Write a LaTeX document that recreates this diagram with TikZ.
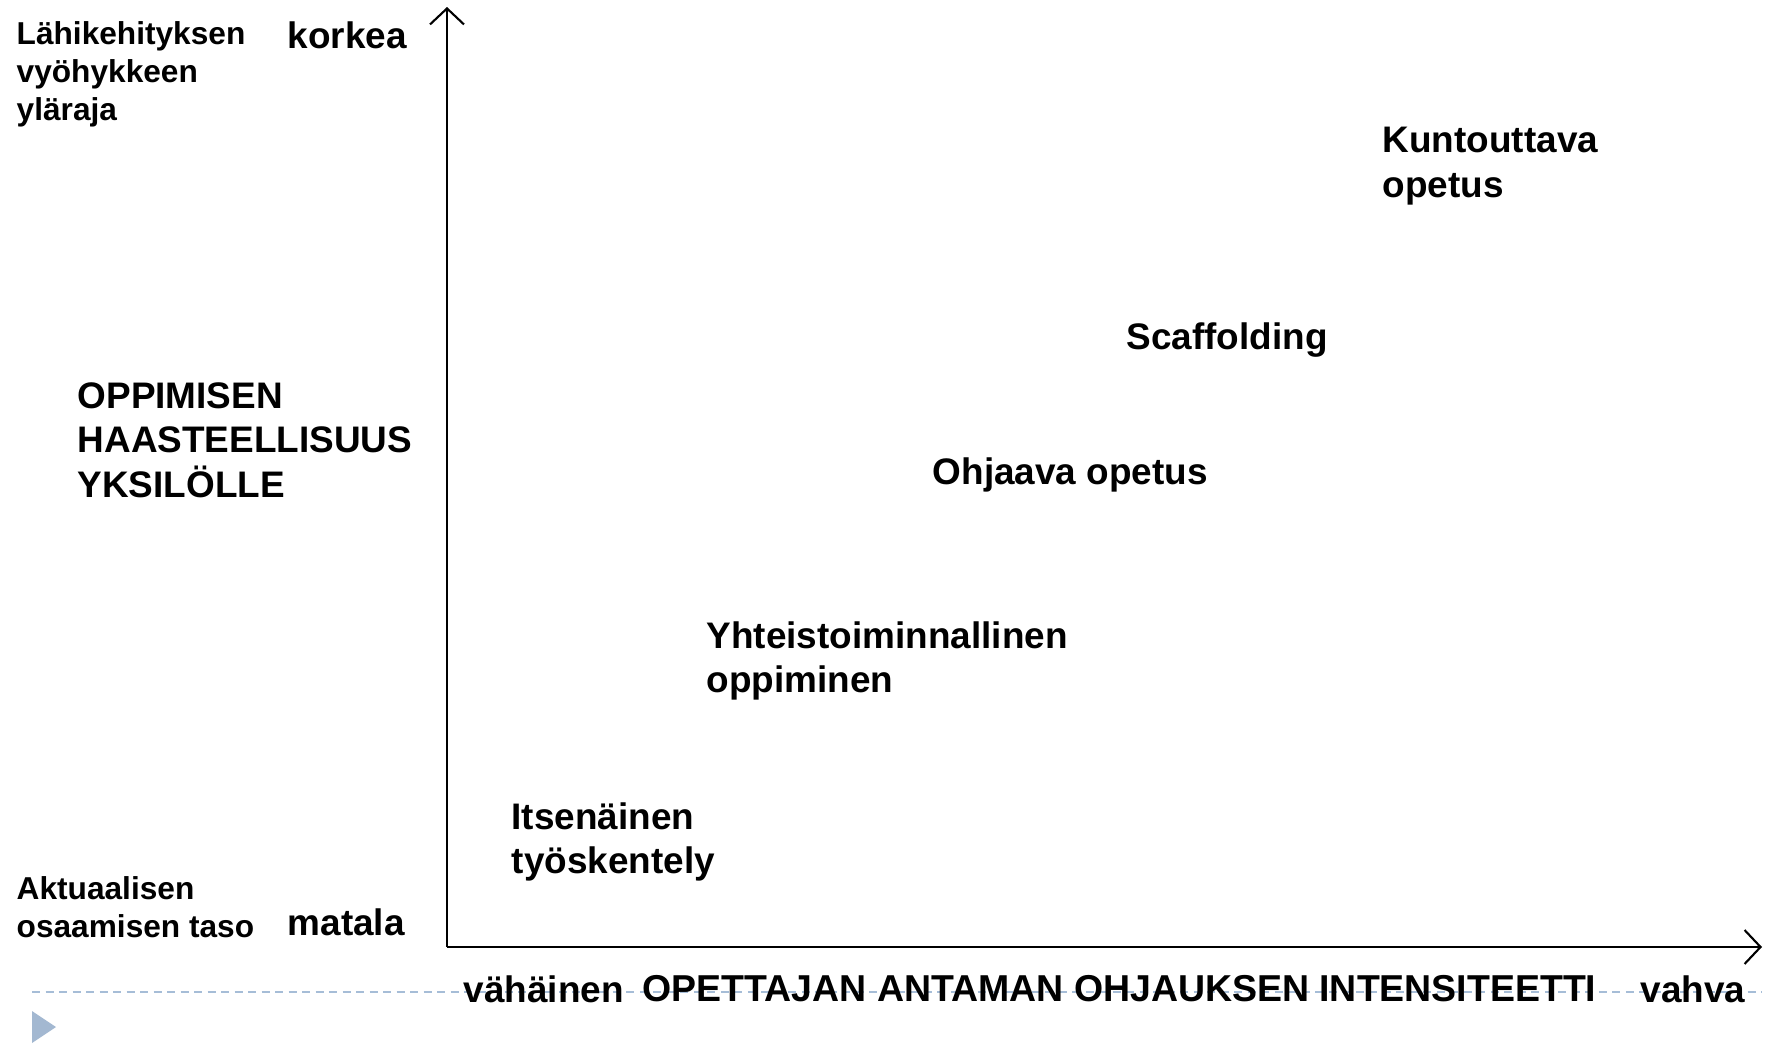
\documentclass[tikz,border=0pt]{standalone}
\usepackage{fontspec}
\setmainfont{Liberation Sans}
\usepackage{tikz}
\usetikzlibrary{arrows.meta}

\definecolor{dashblue}{RGB}{166,189,215}
\definecolor{triblue}{RGB}{163,184,209}

\tikzset{
  smalltxt/.style={anchor=west,inner sep=0pt,align=left,font=\fontsize{9}{10.8}\selectfont\bfseries},
  bigtxt/.style={anchor=west,inner sep=0pt,align=left,font=\fontsize{10.5}{12.7}\selectfont\bfseries},
  axistxt/.style={bigtxt},
  axis/.style={line width=0.6pt,-{Straight Barb[length=1.6mm,width=3.4mm,line width=0.6pt]}}
}

\begin{document}
\begin{tikzpicture}[x=0.01cm,y=-0.01cm]
\useasboundingbox (0,0) rectangle (1769,1045);

\coordinate (O) at (447,947);
\coordinate (Y) at (447,7);
\coordinate (X) at (1762,947);
\coordinate (DL) at (32,992);
\coordinate (DR) at (1762,992);

% slide decoration
\draw[dashblue,line width=0.45pt,dash pattern=on 0.8mm off 0.55mm] (DL) -- (DR);
\fill[triblue] (32,1011) -- (56,1027) -- (32,1043) -- cycle;

% axes
\draw[axis] (O) -- (Y);
\draw[axis] (O) -- (X);

% vertical axis labels
\node[smalltxt] (zpd) at (16,74) {Lähikehityksen\\vyöhykkeen\\yläraja};
\node[smalltxt] (actual) at (16,907) {Aktuaalisen\\osaamisen taso};
\node[bigtxt] (high) at (287,35) {korkea};
\node[bigtxt] (low) at (287,922) {matala};
\node[bigtxt] (challenge) at (77,440) {OPPIMISEN\\HAASTEELLISUUS\\YKSILÖLLE};

% horizontal axis labels
\node[axistxt] (weak) at (463,989) {vähäinen};
\node[axistxt,font=\fontsize{10.65}{12.7}\selectfont\bfseries] (intensity) at (642,989) {OPETTAJAN ANTAMAN OHJAUKSEN INTENSITEETTI};
\node[axistxt] (strong) at (1640,989) {vahva};

% forms of teaching
\node[bigtxt] (indep) at (511,842) {Itsenäinen\\työskentely};
\node[bigtxt] (coop) at (706,661) {Yhteistoiminnallinen\\oppiminen};
\node[bigtxt] (guided) at (932,475) {Ohjaava opetus};
\node[bigtxt] (scaff) at (1126,340) {Scaffolding};
\node[bigtxt] (remedial) at (1382,166) {Kuntouttava\\opetus};
\end{tikzpicture}
\end{document}
